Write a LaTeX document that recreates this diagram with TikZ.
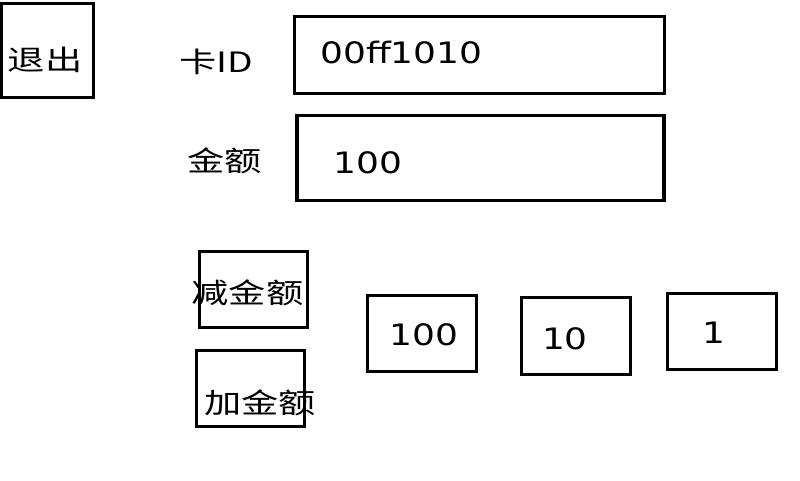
\documentclass[tikz,border=0pt]{standalone}
\usepackage{fontspec}
\newfontfamily\numfont[FakeStretch=1.22]{DejaVu Sans}
\newfontfamily\cjkfont[FakeStretch=1.33]{Noto Sans CJK SC}
\begin{document}
\begin{tikzpicture}[x=1pt,y=-1pt,
  box/.style={draw=black,line width=3.2pt,inner sep=0pt,minimum width=#1},
  num/.style={inner sep=0pt,font=\numfont\fontsize{29.5}{30}\selectfont},
  cjk/.style={inner sep=0pt,font=\cjkfont\fontsize{28}{30}\selectfont}]
\useasboundingbox[fill=white] (0,0) rectangle (800,480);
% boxes
\node[box=92pt,minimum height=94pt] (quit) at (47.5,50.5) {};
\node[box=370pt,minimum height=77pt] (cardbox) at (479.5,55) {};
\node[box=367pt,minimum height=85pt] (amtbox) at (480.5,158.3) {};
\node[box=108pt,minimum height=76pt] (decbox) at (253.5,289.5) {};
\node[box=108pt,minimum height=76pt] (incbox) at (250.5,388.5) {};
\node[box=109pt,minimum height=76pt] (bh) at (422,333.5) {};
\node[box=109pt,minimum height=77pt] (bt) at (576,336) {};
\node[box=109pt,minimum height=76pt] (bo) at (722,331.5) {};
% texts
\node[cjk] (quitt) at (45,59.5) {退出};
\node[cjk] (cardl) at (216.5,61.5) {卡ID};
\node[num] (cardv) at (401.5,52.5) {00ff1010};
\node[cjk] (amtl) at (224.5,160.5) {金额};
\node[num] (amtv) at (368,162.5) {100};
\node[cjk] (dect) at (247.5,293) {减金额};
\node[cjk] (inct) at (260,403) {加金额};
\node[num] (bht) at (424,334.5) {100};
\node[num] (btt) at (565,338.5) {10};
\node[num] (bot) at (713.5,333) {1};
\end{tikzpicture}
\end{document}
